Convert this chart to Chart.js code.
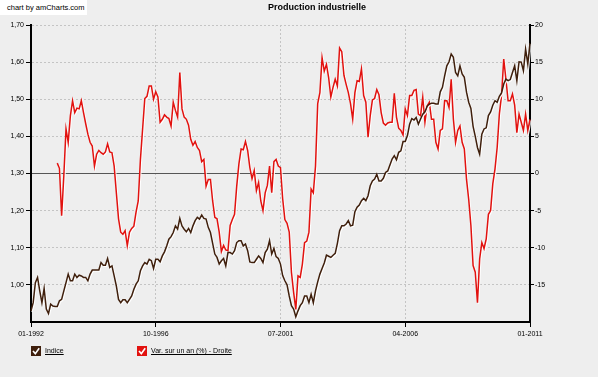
<!DOCTYPE html>
<html>
<head>
<meta charset="utf-8">
<script src="https://cdn.jsdelivr.net/npm/chart.js@4/dist/chart.umd.min.js"></script>
<style>
  body { margin: 0; background: #eeeeee; }
  #wrap { position: relative; width: 598px; height: 377px; background: #eeeeee; font-family: "Liberation Sans", Arial, sans-serif; overflow: hidden; }
  #chart { position: absolute; left: 0; top: 0; }
  .credit { position: absolute; left: 0; top: 0; width: 87px; height: 15px; background: #fff; font-size: 7.5px; line-height: 15px; padding-left: 7px; box-sizing: border-box; color: #000; }
  .title { position: absolute; top: 2px; left: 268px; font-weight: bold; font-size: 9px; color: #000; }
  .legend { position: absolute; top: 345px; height: 11px; display: flex; align-items: center; font-size: 7px; color: #000; }
  .legend svg { margin-right: 4px; }
  .legend span { text-decoration: underline; }
</style>
</head>
<body>
<div id="wrap">
  <canvas id="chart" width="598" height="377"></canvas>
  <div class="credit">chart by amCharts.com</div>
  <div class="title">Production industrielle</div>
  <div class="legend" style="left:31px">
    <svg width="10" height="10"><rect width="10" height="10" fill="#3f1f0c"/><path d="M2 5 L4.3 7.6 L8.2 2.2" stroke="#fff" stroke-width="1.6" fill="none"/></svg>
    <span>Indice</span>
  </div>
  <div class="legend" style="left:137px">
    <svg width="10" height="10"><rect width="10" height="10" fill="#e2120f"/><path d="M2 5 L4.3 7.6 L8.2 2.2" stroke="#fff" stroke-width="1.6" fill="none"/></svg>
    <span>Var. sur un an (%) - Droite</span>
  </div>
</div>
<script>
// monthly, 01-1992 .. 01-2011
const months = [];
for (let y = 1992; y <= 2011; y++) {
    for (let m = 1; m <= 12; m++) {
        if (y === 2011 && m > 1) break;
        months.push(String(m).padStart(2, "0") + "-" + y);
    }
}

const xTickLabels = ["01-1992", "10-1996", "07-2001", "04-2006", "01-2011"];

// Indice (left axis)
const indice = [
    0.930, 0.952, 1.006, 1.020, 0.984, 0.952, 0.990, 0.935, 0.923, 0.948,
    0.943, 0.942, 0.942, 0.957, 0.961, 0.984, 1.006, 1.029, 1.011, 1.011,
    1.029, 1.020, 1.026, 1.024, 1.020, 1.020, 1.011, 1.029, 1.040, 1.040,
    1.040, 1.040, 1.060, 1.053, 1.053, 1.071, 1.047, 1.051, 1.024, 0.997,
    0.961, 0.952, 0.960, 0.960, 0.952, 0.961, 0.970, 0.988, 1.002, 1.011,
    1.038, 1.051, 1.060, 1.056, 1.069, 1.065, 1.044, 1.069, 1.069, 1.062,
    1.078, 1.089, 1.105, 1.123, 1.130, 1.141, 1.159, 1.150, 1.179, 1.159,
    1.150, 1.143, 1.152, 1.141, 1.159, 1.173, 1.182, 1.177, 1.188, 1.179,
    1.177, 1.155, 1.141, 1.112, 1.083, 1.074, 1.056, 1.065, 1.071, 1.051,
    1.087, 1.087, 1.083, 1.092, 1.114, 1.119, 1.119, 1.105, 1.110, 1.092,
    1.062, 1.060, 1.060, 1.069, 1.078, 1.071, 1.060, 1.087, 1.096, 1.119,
    1.083, 1.098, 1.076, 1.071, 1.056, 1.025, 1.011, 1.000, 0.970, 0.944,
    0.935, 0.914, 0.930, 0.944, 0.952, 0.970, 0.970, 0.952, 0.975, 0.952,
    0.984, 1.008, 1.029, 1.044, 1.059, 1.080, 1.077, 1.074, 1.080, 1.085,
    1.112, 1.146, 1.159, 1.159, 1.164, 1.173, 1.159, 1.161, 1.197, 1.209,
    1.215, 1.227, 1.233, 1.227, 1.240, 1.267, 1.280, 1.285, 1.298, 1.280,
    1.280, 1.287, 1.303, 1.307, 1.323, 1.339, 1.348, 1.337, 1.357, 1.361,
    1.386, 1.386, 1.402, 1.433, 1.448, 1.444, 1.451, 1.433, 1.447, 1.460,
    1.466, 1.481, 1.487, 1.489, 1.489, 1.487, 1.487, 1.520, 1.532, 1.563,
    1.590, 1.601, 1.622, 1.613, 1.572, 1.563, 1.590, 1.568, 1.559, 1.519,
    1.492, 1.475, 1.427, 1.400, 1.370, 1.352, 1.406, 1.420, 1.423, 1.456,
    1.466, 1.484, 1.496, 1.492, 1.508, 1.517, 1.541, 1.554, 1.550, 1.553,
    1.572, 1.590, 1.550, 1.601, 1.600, 1.577, 1.635, 1.595, 1.651
];

// Var. sur un an (%) (right axis), starts 01-1993
const variation = [
    null, null, null, null, null, null, null, null, null, null, null, null,
    1.4, 0.7, -5.7, -0.3, 6.0, 4.2, 7.8, 9.8,
    8.2, 8.8, 8.7, 9.8, 8.2, 6.7, 5.3, 4.2, 3.7, 1.0,
    2.6, 3.1, 2.8, 2.6, 2.9, 4.0, 2.9, 2.8, 1.0, -2.6,
    -6.1, -7.9, -8.2, -7.7, -9.7, -7.9, -7.4, -7.1, -5.2, -3.7,
    1.9, 6.0, 10.1, 10.4, 11.8, 11.8, 10.0, 11.0, 10.3, 6.9,
    7.3, 7.9, 7.6, 7.4, 6.4, 9.6, 8.5, 7.6, 13.6, 8.7,
    7.6, 7.3, 6.5, 4.6, 3.8, 4.3, 3.5, 3.1, 1.6, 1.9,
    -1.7, -0.8, -0.8, -3.7, -5.9, -6.1, -7.9, -10.5, -9.7, -10.3,
    -10.4, -7.0, -6.2, -5.5, -1.7, 1.3, 3.3, 3.2, 4.3, 3.1,
    0.8, -0.7, 0.4, -2.3, -1.2, -3.7, -5.0, -2.6, -1.6, 1.0,
    -2.6, 1.6, 1.9, 1.0, 0.8, -3.4, -6.2, -6.7, -7.9, -13.3,
    -16.0, -18.3, -13.8, -14.0, -12.2, -9.3, -9.1, -7.9, -2.1, -2.6,
    1.0, 9.4, 10.9, 15.6, 13.8, 14.7, 12.9, 10.3, 11.6, 12.7,
    11.8, 16.9, 16.4, 13.2, 12.0, 10.9, 9.4, 7.3, 10.9, 12.5,
    12.4, 14.1, 10.5, 9.6, 4.9, 7.8, 9.9, 10.1, 11.3, 10.6,
    8.2, 6.8, 6.5, 6.8, 6.9, 6.9, 10.8, 7.6, 6.1, 5.8,
    5.2, 8.7, 7.8, 10.5, 10.5, 11.2, 11.3, 8.0, 7.8, 10.3,
    6.9, 9.1, 9.6, 7.3, 7.3, 4.2, 3.3, 5.8, 6.0, 9.8,
    9.8, 8.9, 12.7, 7.3, 4.2, 5.8, 6.4, 4.2, 3.3, -0.8,
    -3.5, -7.0, -12.4, -13.3, -17.4, -11.5, -9.3, -10.1, -8.8, -5.5,
    -5.0, -1.4, 0.6, 3.5, 8.0, 10.5, 15.4, 12.7, 9.8, 9.8,
    10.7, 9.2, 5.5, 8.0, 6.9, 5.8, 8.0, 5.8, 7.3
];

const leftMin = 0.9, leftMax = 1.7, leftBase = 1.3;
const rightMin = -20, rightMax = 20;

Chart.defaults.font.family = "'Liberation Sans', Arial, sans-serif";
Chart.defaults.font.size = 7;
Chart.defaults.color = "#000";

const isBase = v => Math.abs(v - leftBase) < 1e-6;

// light halo under the lines, like the original
const lineShadow = {
    id: "lineShadow",
    beforeDatasetDraw(chart) {
        const c = chart.ctx;
        c.save();
        c.shadowColor = "rgba(255,255,255,0.95)";
        c.shadowOffsetX = 1;
        c.shadowOffsetY = 1;
        c.shadowBlur = 0;
    },
    afterDatasetDraw(chart) {
        chart.ctx.restore();
    }
};

new Chart(document.getElementById("chart"), {
    type: "line",
    data: {
        labels: months,
        datasets: [
            {
                label: "Indice",
                data: indice,
                yAxisID: "y",
                borderColor: "#3f1f0c",
                borderWidth: 1.5,
                pointRadius: 0,
                tension: 0
            },
            {
                label: "Var. sur un an (%) - Droite",
                data: variation,
                yAxisID: "y1",
                borderColor: "#e2120f",
                borderWidth: 1.5,
                pointRadius: 0,
                tension: 0
            }
        ]
    },
    options: {
        responsive: false,
        animation: false,
        events: [],
        layout: { padding: { top: 25 } },
        plugins: {
            legend: { display: false },
            title: { display: false },
            tooltip: { enabled: false }
        },
        scales: {
            x: {
                type: "category",
                offset: false,
                afterFit: s => { s.height = 55; },
                ticks: {
                    autoSkip: false,
                    maxRotation: 0,
                    padding: 3,
                    callback: (v, i) => xTickLabels.includes(months[i]) ? months[i] : ""
                },
                grid: {
                    color: ctx => xTickLabels.includes(months[ctx.index]) ? "#c4c4c4" : "rgba(0,0,0,0)",
                    tickColor: ctx => xTickLabels.includes(months[ctx.index]) ? "#000" : "rgba(0,0,0,0)",
                    tickLength: 5,
                    lineWidth: 1
                },
                border: { color: "#000", width: 2, dash: [2, 2] }
            },
            y: {
                position: "left",
                min: leftMin,
                max: leftMax,
                afterFit: s => { s.width = 31; },
                ticks: {
                    stepSize: 0.1,
                    padding: 2,
                    callback: v => Math.abs(v - leftMin) < 1e-6 ? "" : v.toFixed(2).replace(".", ",")
                },
                grid: {
                    color: ctx => ctx.tick && isBase(ctx.tick.value) ? "#555" : "#c4c4c4",
                    tickColor: ctx => ctx.tick && Math.abs(ctx.tick.value - leftMin) < 1e-6 ? "rgba(0,0,0,0)" : "#000",
                    tickLength: 5,
                    lineWidth: 1
                },
                border: {
                    color: "#000",
                    width: 2,
                    dash: ctx => ctx.tick && isBase(ctx.tick.value) ? [] : [2, 2]
                }
            },
            y1: {
                position: "right",
                min: rightMin,
                max: rightMax,
                afterFit: s => { s.width = 68; },
                ticks: {
                    stepSize: 5,
                    padding: 1,
                    callback: v => v === rightMin ? "" : String(v)
                },
                grid: {
                    drawOnChartArea: false,
                    tickColor: ctx => ctx.tick && ctx.tick.value === rightMin ? "rgba(0,0,0,0)" : "#000",
                    tickLength: 4
                },
                border: { color: "#000", width: 2 }
            }
        }
    },
    plugins: [lineShadow]
});
</script>
</body>
</html>
